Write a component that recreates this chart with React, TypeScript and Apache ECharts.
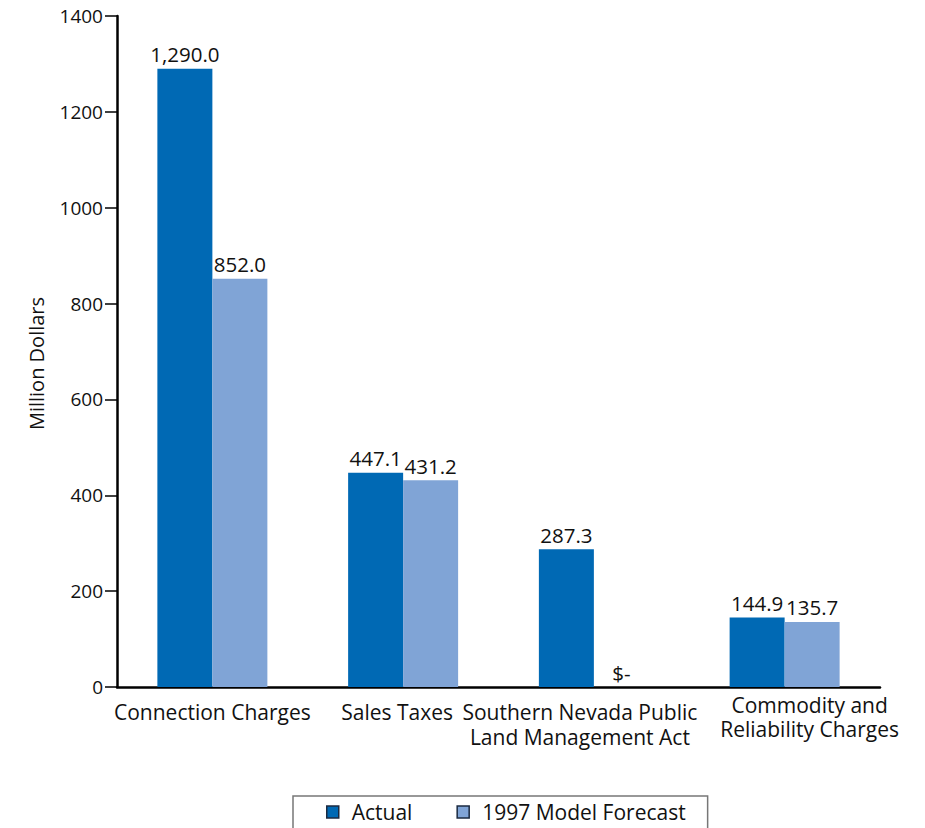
import React, { useEffect, useRef } from "react";
import * as echarts from "echarts";

const categories = [
  "Connection Charges",
  "Sales Taxes",
  "Southern Nevada Public\nLand Management Act",
  "Commodity and\nReliability Charges",
];
const actual = [1290.0, 447.1, 287.3, 144.9];
const forecast = [852.0, 431.2, 0, 135.7];
const seriesNames = ["Actual", "1997 Model Forecast"];
const yTicks = { min: 0, max: 1400, interval: 200 };

const FONT = "'Open Sans', Lato, sans-serif";
const ACTUAL_COLOR = "#0069b4";
const FORECAST_COLOR = "#80a4d6";

// the long, wrapped labels are nudged apart so they do not collide
const labelStyle: Record<string, object> = {
  [categories[1]]: { padding: [0, 12, 0, 0] },
  [categories[2]]: { padding: [0, 28, 0, 0] },
  [categories[3]]: { padding: [-6, 0, 0, 50], lineHeight: 24 },
};

const fmt = (v: number) =>
  v === 0
    ? "$-"
    : v.toLocaleString("en-US", { minimumFractionDigits: 1, maximumFractionDigits: 1 });

export default function App() {
  const ref = useRef<HTMLDivElement>(null);

  useEffect(() => {
    if (!ref.current) return;
    const chart = echarts.init(ref.current, undefined, { renderer: "svg" });
    const label = {
      show: true,
      position: "top" as const,
      distance: 4,
      color: "#111",
      fontFamily: FONT,
      fontSize: 20.5,
      formatter: (p: any) => fmt(p.value),
    };
    chart.setOption({
      animation: false,
      backgroundColor: "#ffffff",
      textStyle: { fontFamily: FONT },
      grid: { left: 117, right: 45, top: 16, bottom: 141, containLabel: false },
      legend: {
        data: seriesNames,
        top: 796,
        left: 293,
        icon: "rect",
        itemWidth: 12,
        itemHeight: 12,
        itemGap: 44,
        padding: [5, 22, 14, 33],
        borderColor: "#777",
        borderWidth: 1.5,
        textStyle: {
          fontFamily: FONT,
          fontSize: 21,
          lineHeight: 22,
          color: "#111",
          padding: [0, 0, 0, 8],
        },
        itemStyle: { borderColor: "#1b2a40", borderWidth: 1.5 },
      },
      xAxis: {
        type: "category",
        data: categories.map((c) =>
          labelStyle[c] ? { value: c, textStyle: labelStyle[c] } : c
        ),
        axisLine: { show: true, lineStyle: { color: "#000", width: 2.5 } },
        axisTick: { show: false },
        axisLabel: {
          color: "#111",
          fontFamily: FONT,
          fontSize: 21,
          lineHeight: 25,
          margin: 12,
          interval: 0,
        },
      },
      yAxis: {
        type: "value",
        min: yTicks.min,
        max: yTicks.max,
        interval: yTicks.interval,
        name: "Million Dollars",
        nameLocation: "middle",
        nameGap: 71,
        nameRotate: 90,
        nameTextStyle: { fontFamily: FONT, fontSize: 20, color: "#111", padding: [0, 24, 0, 0] },
        axisLine: { show: true, lineStyle: { color: "#000", width: 2.5 } },
        axisTick: { show: true, inside: false, length: 12, lineStyle: { color: "#000", width: 1.5 } },
        axisLabel: {
          color: "#111",
          fontFamily: FONT,
          fontSize: 19,
          margin: 14,
          formatter: (v: number) => String(v),
        },
        splitLine: { show: false },
      },
      series: [
        {
          name: seriesNames[0],
          type: "bar",
          data: actual,
          barWidth: 55,
          barGap: "0%",
          itemStyle: { color: ACTUAL_COLOR },
          label,
        },
        {
          name: seriesNames[1],
          type: "bar",
          data: forecast,
          barWidth: 55,
          itemStyle: { color: FORECAST_COLOR },
          label,
        },
      ],
    });
    return () => chart.dispose();
  }, []);

  return (
    <div
      ref={ref}
      style={{ position: "fixed", left: 0, top: 0, width: 925, height: 828, background: "#fff" }}
    />
  );
}
